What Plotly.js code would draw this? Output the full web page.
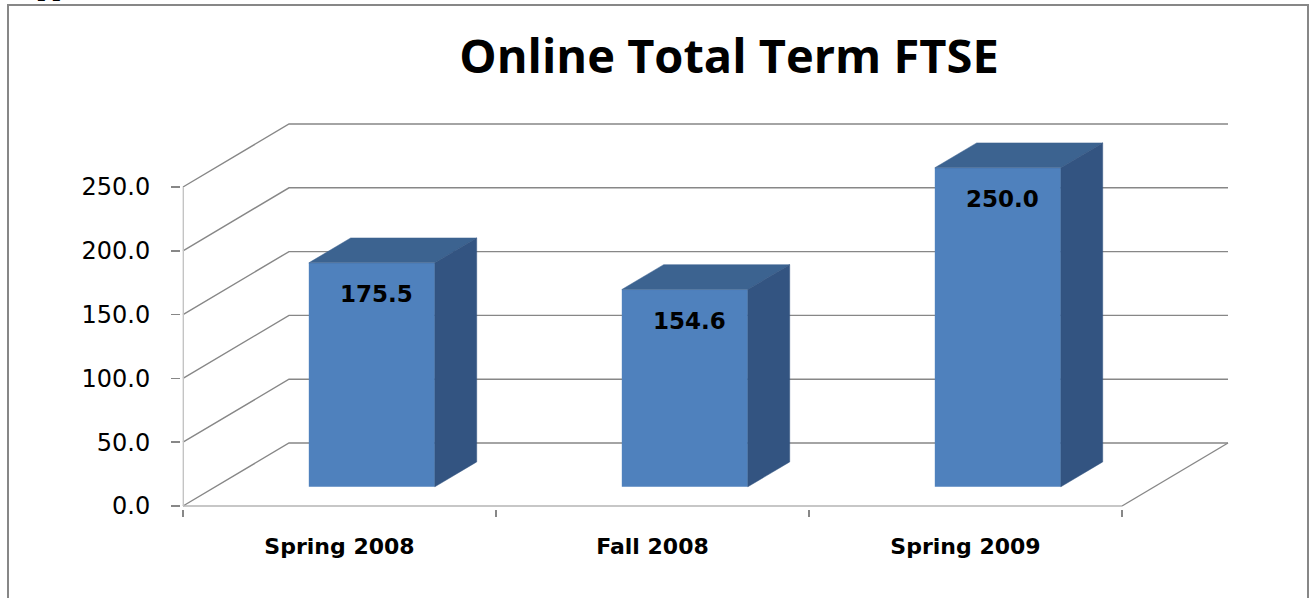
<!DOCTYPE html>
<html>
<head>
<meta charset="utf-8">
<script src="https://cdn.plot.ly/plotly-3.0.1.min.js"></script>
<style>html,body{margin:0;padding:0;background:#fff;}#chart{width:1309px;height:598px;}</style>
</head>
<body>
<div id="chart"></div>
<script>
// ---- data ----
const categories = ['Spring 2008', 'Fall 2008', 'Spring 2009'];
const values = [175.5, 154.6, 250.0];
const valueLabels = ['175.5', '154.6', '250.0'];
const yTicks = [0, 50, 100, 150, 200, 250];
const chartTitle = 'Online Total Term FTSE';

// ---- geometry (layout / 3D look) ----
const W = 1309, H = 598;
const PL = 181, PR = 1234, PT = 118, PB = 509;   // plot box in px
const X0PX = 183, XS = 313;                        // px of x=-0.5 and px per category
const Y0PX = 506, YS = 1.276;                      // px of y=0 and px per unit
const xRange = [-0.5 - (X0PX - PL) / XS, -0.5 + (PR - X0PX) / XS];
const yRange = [-(PB - Y0PX) / YS, (Y0PX - PT) / YS];
const DX = 106 / XS, DY = 63 / YS;                 // full depth offset
const F1 = 0.305, F2 = 0.70, BW = 0.4026;          // bar depth fractions and width
const n = categories.length;
const xL = -0.5, xR = n - 0.5;

const gridCol = '#878787';
const traces = [];

// back wall gridlines + left wall diagonals
const gx = [], gy = [];
yTicks.forEach(v => {
  gx.push(xL, xL + DX, xR + DX, null);
  gy.push(v, v + DY, v + DY, null);
});
traces.push({type: 'scatter', mode: 'lines', x: gx, y: gy, xaxis: 'x', yaxis: 'y',
  line: {color: gridCol, width: 1.4}, hoverinfo: 'skip', showlegend: false});
// floor right edge
traces.push({type: 'scatter', mode: 'lines', x: [xR, xR + DX], y: [0, DY], xaxis: 'x', yaxis: 'y',
  line: {color: gridCol, width: 1.4}, hoverinfo: 'skip', showlegend: false});
// floor front edge
traces.push({type: 'scatter', mode: 'lines', x: [xL, xR], y: [0, 0], xaxis: 'x', yaxis: 'y',
  line: {color: '#b4b4b4', width: 1.4}, hoverinfo: 'skip', showlegend: false});
// front vertical axis line
traces.push({type: 'scatter', mode: 'lines', x: [xL + 0.001, xL + 0.001], y: [0, yTicks[yTicks.length - 1]], xaxis: 'x', yaxis: 'y',
  line: {color: '#c4c4c4', width: 1.4}, hoverinfo: 'skip', showlegend: false});

// bar front faces
const b1 = F1 * DY, b2 = F2 * DY, dd = (F2 - F1) * DX;
traces.push({type: 'bar', x: categories.map((c, i) => i), y: values, base: b1,
  width: BW, offset: -BW / 2 + F1 * DX, xaxis: 'x2', yaxis: 'y',
  marker: {color: '#4F81BD', line: {width: 0}}, hoverinfo: 'skip', showlegend: false});

// top and side faces
values.forEach((v, i) => {
  const x0 = i - BW / 2 + F1 * DX, x1 = x0 + BW;
  traces.push({type: 'scatter', mode: 'lines', fill: 'toself', xaxis: 'x2', yaxis: 'y',
    x: [x0, x1, x1 + dd, x0 + dd, x0], y: [v + b1, v + b1, v + b2, v + b2, v + b1],
    fillcolor: '#3C6390', line: {color: '#3C6390', width: 0.5}, hoverinfo: 'skip', showlegend: false});
  traces.push({type: 'scatter', mode: 'lines', fill: 'toself', xaxis: 'x2', yaxis: 'y',
    x: [x1, x1 + dd, x1 + dd, x1, x1], y: [b1, b2, v + b2, v + b1, b1],
    fillcolor: '#335481', line: {color: '#335481', width: 0.5}, hoverinfo: 'skip', showlegend: false});
});

const pxX = p => (p - PL) / (PR - PL);
const pxY = p => (PB - p) / (PB - PT);

const annotations = values.map((v, i) => ({
  x: i + F1 * DX, y: v + b1, xref: 'x2', yref: 'y', xshift: 5, yshift: -31,
  text: valueLabels[i], showarrow: false, xanchor: 'center', yanchor: 'middle',
  font: {family: 'DejaVu Sans', size: 23, color: '#000', weight: 'bold'}
}));
annotations.push({
  x: pxX(16), y: pxY(3), xref: 'paper', yref: 'paper', xanchor: 'left', yanchor: 'bottom',
  text: 'Appendix', showarrow: false,
  font: {family: 'Liberation Serif', size: 27, color: '#000', weight: 'bold'}
});

const layout = {
  width: W, height: H,
  margin: {l: PL, r: W - PR, t: PT, b: H - PB, pad: 0},
  paper_bgcolor: '#fff', plot_bgcolor: 'rgba(0,0,0,0)',
  showlegend: false,
  title: {text: chartTitle, x: 729 / W, xref: 'container', xanchor: 'center',
    y: 1 - 57 / H, yref: 'container', yanchor: 'middle',
    font: {family: 'Open Sans', size: 47, color: '#000', weight: 'bold'}},
  xaxis: {type: 'linear', range: xRange, tickmode: 'array', tickvals: categories.map((c, i) => i),
    ticktext: categories, ticks: '', showgrid: false, zeroline: false, showline: false,
    ticklabelstandoff: 22,
    tickfont: {family: 'DejaVu Sans', size: 22, color: '#000', weight: 'bold'},
    minor: {tickmode: 'linear', tick0: -0.5, dtick: 1, ticks: 'outside', ticklen: 7,
      tickwidth: 2, tickcolor: gridCol, showgrid: false},
    fixedrange: true},
  xaxis2: {type: 'linear', range: xRange, overlaying: 'x', visible: false, fixedrange: true},
  yaxis: {range: yRange, tickmode: 'array', tickvals: yTicks, tickformat: '.1f',
    ticks: 'outside', ticklen: 9, tickwidth: 1.5, tickcolor: gridCol,
    showgrid: false, zeroline: false, showline: false, ticklabelstandoff: 16,
    tickfont: {family: 'DejaVu Sans', size: 24, color: '#000'}, fixedrange: true},
  shapes: [{type: 'rect', xref: 'paper', yref: 'paper',
    x0: pxX(8), x1: pxX(1308), y0: pxY(604), y1: pxY(5),
    line: {color: gridCol, width: 2}, fillcolor: 'rgba(0,0,0,0)', layer: 'below'}],
  annotations: annotations
};

Plotly.newPlot('chart', traces, layout, {staticPlot: true, displayModeBar: false});
</script>
</body>
</html>
